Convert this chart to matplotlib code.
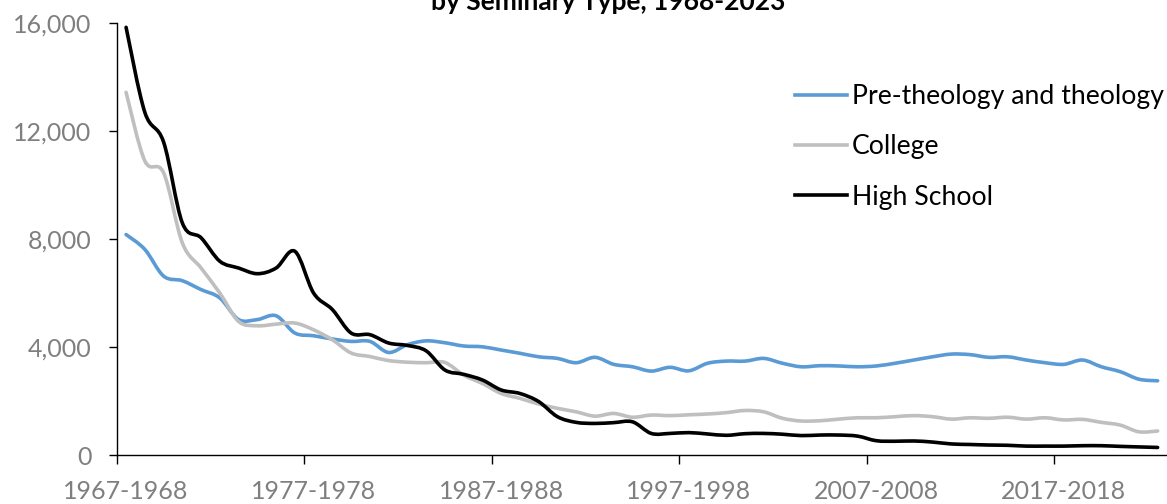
import matplotlib
matplotlib.use("Agg")
import matplotlib.pyplot as plt
from matplotlib.path import Path
from matplotlib.patches import PathPatch
from matplotlib.lines import Line2D
import numpy as np

plt.rcParams['font.family'] = ['Lato', 'DejaVu Sans']

years = [f"{y}-{y+1}" for y in range(1967, 2023)]

theology = [8170, 7620, 6630, 6460, 6130, 5820, 5020, 5020, 5160, 4520,
            4420, 4300, 4210, 4210, 3800, 4090, 4230, 4160, 4040, 4010,
            3890, 3770, 3640, 3580, 3420, 3620, 3360, 3270, 3110, 3250,
            3120, 3400, 3480, 3480, 3580, 3400, 3270, 3310, 3300, 3270,
            3300, 3400, 3520, 3640, 3740, 3720, 3620, 3640, 3520, 3420,
            3360, 3520, 3270, 3090, 2810, 2750]
college = [13440, 10900, 10460, 7860, 6930, 6000, 4950, 4790, 4850, 4890,
           4640, 4270, 3780, 3650, 3500, 3440, 3420, 3430, 2960, 2650,
           2280, 2100, 1890, 1730, 1600, 1440, 1540, 1400, 1480, 1460,
           1490, 1520, 1570, 1650, 1600, 1360, 1260, 1270, 1330, 1380,
           1380, 1420, 1460, 1420, 1330, 1380, 1360, 1400, 1330, 1380,
           1300, 1320, 1210, 1110, 860, 890]
high_school = [15850, 12700, 11600, 8600, 8050, 7180, 6930, 6720, 6930, 7550,
               6000, 5390, 4520, 4460, 4150, 4060, 3860, 3150, 2990, 2780,
               2410, 2280, 1980, 1420, 1210, 1170, 1200, 1230, 800, 800,
               830, 780, 730, 790, 800, 770, 720, 740, 740, 700,
               530, 510, 520, 480, 410, 390, 370, 360, 330, 330,
               330, 345, 345, 320, 300, 280]

series = [("Pre-theology and theology", theology, "#5B9BD5"),
          ("College", college, "#BFBFBF"),
          ("High School", high_school, "#000000")]

fig = plt.figure(figsize=(11.67, 5.04), dpi=100)
ax = fig.add_axes([0.1, 0.0972, 0.9, 0.9538 - 0.0972])


def smooth_path(xs, ys):
    pts = np.column_stack([xs, ys]).astype(float)
    n = len(pts)
    verts = [pts[0]]
    codes = [Path.MOVETO]
    for i in range(n - 1):
        p0 = pts[i - 1] if i > 0 else pts[i]
        p1 = pts[i]
        p2 = pts[i + 1]
        p3 = pts[i + 2] if i + 2 < n else pts[i + 1]
        c1 = p1 + (p2 - p0) / 6.0
        c2 = p2 - (p3 - p1) / 6.0
        verts += [c1, c2, p2]
        codes += [Path.CURVE4] * 3
    return Path(verts, codes)


x = np.arange(len(years))
LW = 2.6
handles = []
for name, vals, col in series:
    patch = PathPatch(smooth_path(x, vals), facecolor='none', edgecolor=col,
                      lw=LW, capstyle='round', joinstyle='round')
    ax.add_patch(patch)
    handles.append(Line2D([], [], color=col, lw=LW, label=name))

ax.set_xlim(-0.5, len(years) - 0.5)
ax.set_ylim(0, 16000)

for s in ['top', 'right']:
    ax.spines[s].set_visible(False)
for s in ['left', 'bottom']:
    ax.spines[s].set_color('black')
    ax.spines[s].set_linewidth(1.0)

ax.set_yticks([0, 4000, 8000, 12000, 16000])
ax.set_yticklabels(['0', '4,000', '8,000', '12,000', '16,000'])
ax.tick_params(axis='y', direction='out', length=6, width=1.0, pad=12,
               labelsize=18, labelcolor='#7F7F7F', color='black')

ax.set_xticks(np.arange(-0.5, len(years), 10))
ax.set_xticklabels([])
ax.set_xticks(np.arange(0, len(years), 10), minor=True)
ax.set_xticklabels([years[i] for i in range(0, len(years), 10)], minor=True)
ax.tick_params(axis='x', which='major', direction='out', length=6.5, width=1.0,
               color='black')
ax.tick_params(axis='x', which='minor', length=0, pad=18,
               labelsize=18, labelcolor='#7F7F7F')

leg = ax.legend(handles=handles, loc='upper left', frameon=False,
                bbox_to_anchor=(795 / 1167, 1 - 84 / 504),
                bbox_transform=fig.transFigure, borderpad=0, borderaxespad=0,
                handlelength=1.95, handletextpad=0.18, labelspacing=0.95,
                fontsize=19.2)

fig.text(0.521, 0.980, "by Seminary Type, 1968-2023", ha='center',
         va='baseline', fontsize=19, fontweight='bold', color='black')

fig.savefig("out.png", dpi=100)
